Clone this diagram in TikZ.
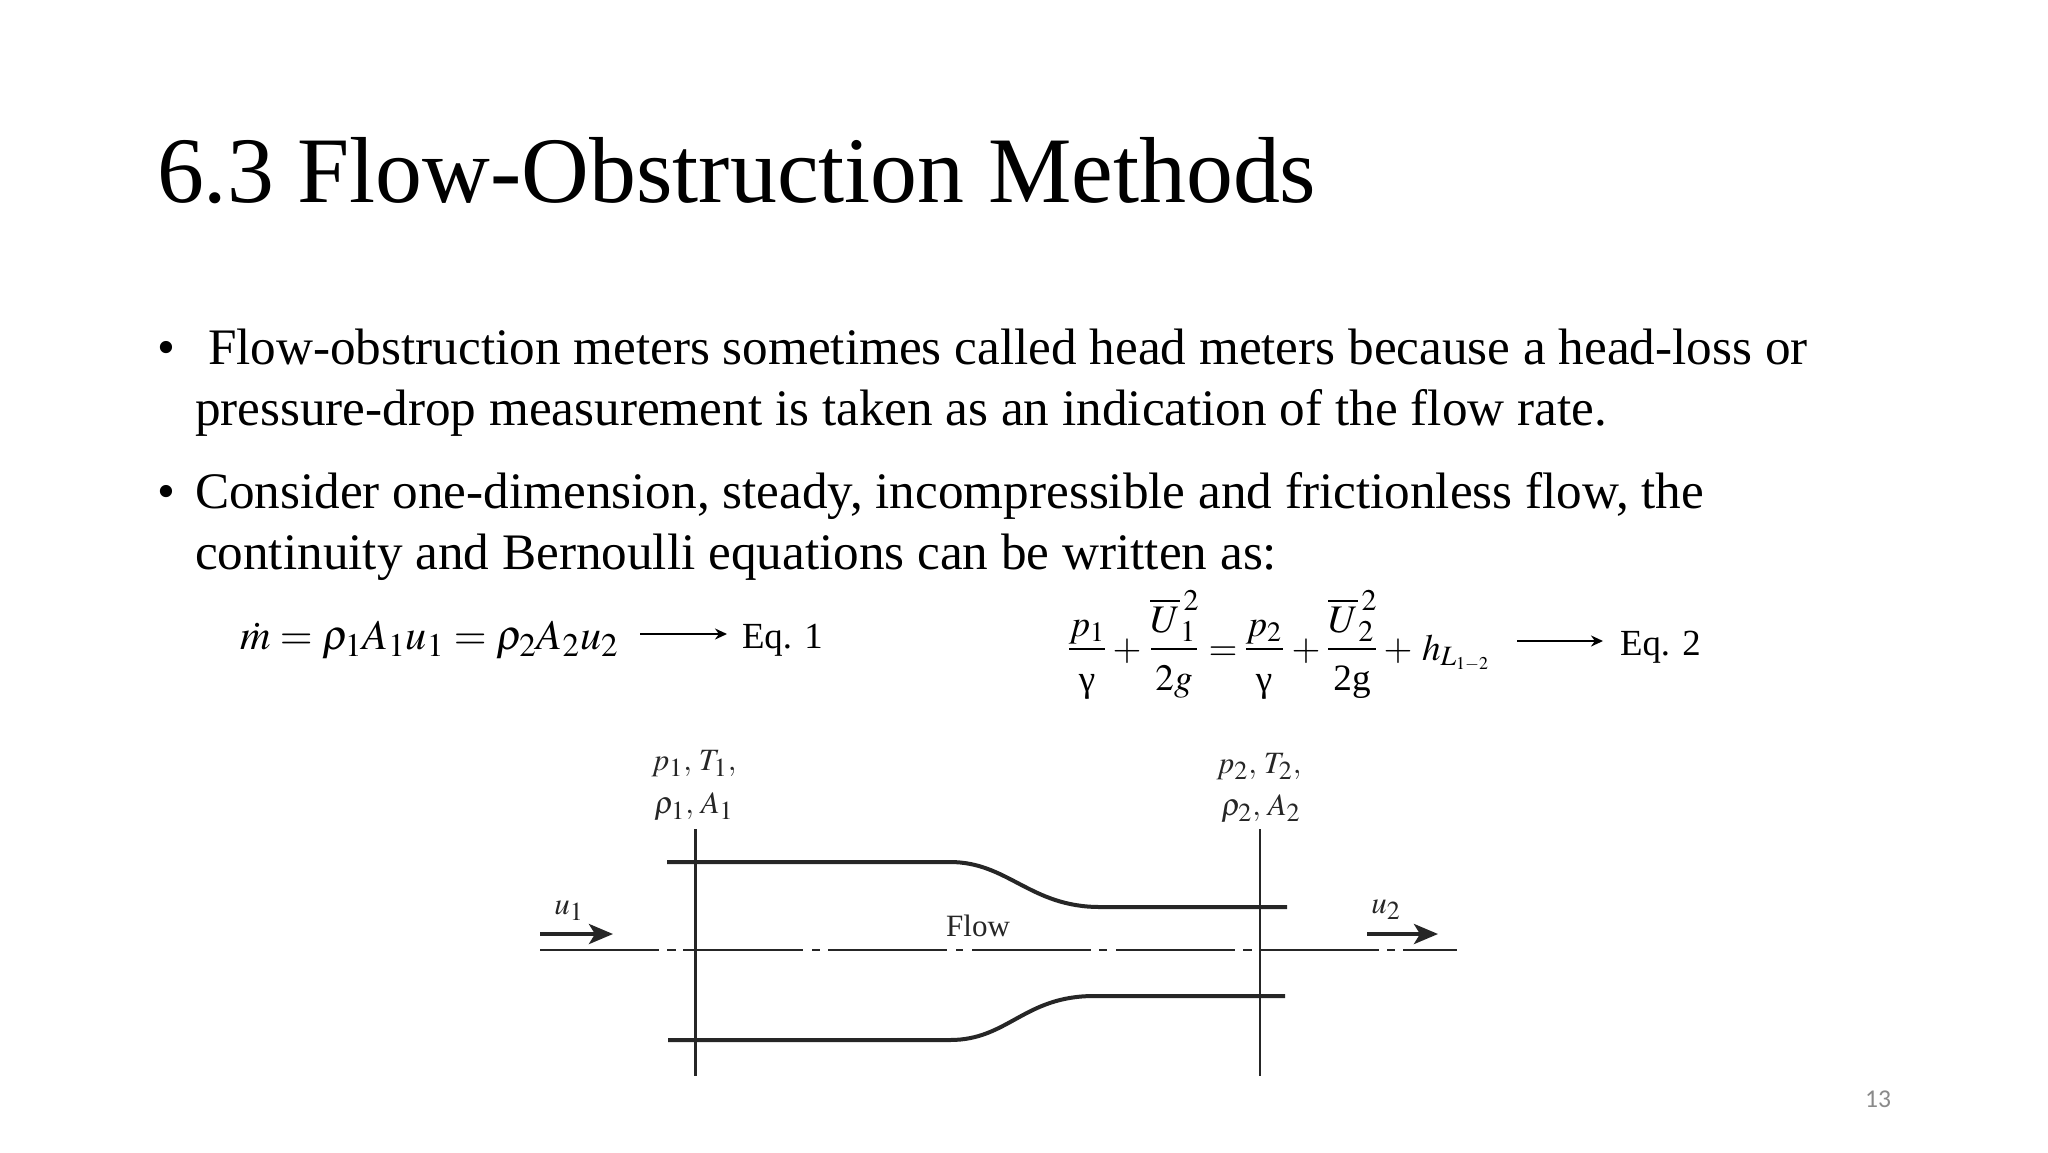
\documentclass[tikz,border=0pt]{standalone}
\usepackage{mathptmx}
\usepackage[no-math]{fontspec}
\setmainfont{Liberation Serif}
\newfontfamily\pagenumfont{Carlito}
\usetikzlibrary{arrows.meta}
\DeclareMathSizes{18.6}{18.6}{14}{9}
\DeclareMathSizes{19.5}{19.5}{15}{11}
\DeclareMathSizes{21.1}{21.1}{16.5}{12}
\DeclareMathSizes{15.5}{15.5}{13}{10}
\definecolor{ink}{HTML}{000000}
\definecolor{fig}{HTML}{262626}
\definecolor{pgnum}{HTML}{8A8A8A}
\newcommand{\fsz}[1]{\fontsize{#1}{#1}\selectfont}
\tikzset{
  x=0.5pt,y=-0.5pt,
  txt/.style={anchor=base west,inner sep=0pt,outer sep=0pt,text=ink},
  titletxt/.style={txt,font=\fsz{46.9}},
  bodytxt/.style={txt,font=\fsz{25.6}},
  eqtxt/.style={txt,font=\fsz{18.4}},
  eqmath/.style={txt,font=\fsz{21.1}},
  hmath/.style={txt,font=\fsz{18.6}},
  mth/.style={anchor=base,inner sep=0pt,outer sep=0pt,text=ink,font=\fsz{18.6}},
  mthn/.style={anchor=base,inner sep=0pt,outer sep=0pt,text=ink,font=\fsz{19.5}},
  figtxt/.style={anchor=base,inner sep=0pt,outer sep=0pt,text=fig,font=\fsz{15.5}},
  fracbar/.style={line width=0.7pt,draw=ink},
  eqarrow/.style={line width=1pt,-{Stealth[length=6pt,width=5.5pt]},draw=ink},
  wall/.style={line width=2pt,draw=fig},
  thin line/.style={line width=1.1pt,draw=fig},
  flowarrow/.style={line width=2pt,-{Stealth[length=12pt,width=10pt,inset=3pt]},draw=fig},
}
\begin{document}
\begin{tikzpicture}
\useasboundingbox (0,0) rectangle (2048,1152);
\fill[white] (0,0) rectangle (2048,1152);
% title
\node[titletxt] (title) at (157,202) {6.3 Flow-Obstruction Methods};
% bullets
\node[bodytxt] (b1) at (157,364) {•};
\node[bodytxt] (l1) at (208,364) {Flow-obstruction meters sometimes called head meters because a head-loss or};
\node[bodytxt] (l2) at (195,425) {pressure-drop measurement is taken as an indication of the flow rate.};
\node[bodytxt] (b2) at (157,508.5) {•};
\node[bodytxt] (l3) at (195,508.5) {Consider one-dimension, steady, incompressible and frictionless flow, the};
\node[bodytxt] (l4) at (195,569.5) {continuity and Bernoulli equations can be written as:};
% equation 1
\node[eqmath] (eqa) at (240,649) {$\dot{m}=\rho_1A_1u_1=\rho_2A_2u_2$};
\coordinate (ea1) at (640,634);
\coordinate (ea2) at (727,634);
\draw[eqarrow] (ea1) -- (ea2);
\node[eqtxt] (eq1) at (742,648) {Eq. 1};
% equation 2
\node[mth] (n1) at (1087,636) {$p_1$};
\draw[fracbar] (1069,649) -- (1105,649);
\node[mth] (d1) at (1087,691) {γ};
\node[mth] (plus1) at (1127,660) {$+$};
\node[mthn] (n2) at (1175,632) {$\overline{U}_1^{\,2}$};
\draw[fracbar] (1151,649) -- (1197,649);
\node[mth] (d2) at (1174,690) {$2g$};
\node[mth] (eqq) at (1223,660) {$=$};
\node[mth] (n3) at (1264,636) {$p_2$};
\draw[fracbar] (1246,649) -- (1283,649);
\node[mth] (d3) at (1264,691) {γ};
\node[mth] (plus2) at (1306,660) {$+$};
\node[mthn] (n4) at (1353,632) {$\overline{U}_2^{\,2}$};
\draw[fracbar] (1328,649) -- (1376,649);
\node[mth] (d4) at (1352,690) {2g};
\node[mth] (plus3) at (1398,660) {$+$};
\node[hmath] (hl) at (1422,660) {$h_{L_{1-2}}$};
\coordinate (eb1) at (1517,641);
\coordinate (eb2) at (1603,641);
\draw[eqarrow] (eb1) -- (eb2);
\node[eqtxt] (eq2) at (1620,655) {Eq. 2};
% figure labels
\node[figtxt] (s1a) at (694,770) {$p_1,\,T_1,$};
\node[figtxt] (s1b) at (694,813) {$\rho_1,\,A_1$};
\node[figtxt] (s2a) at (1259,773) {$p_2,\,T_2,$};
\node[figtxt] (s2b) at (1261,815) {$\rho_2,\,A_2$};
\node[figtxt] (u1) at (569,914) {$u_1$};
\node[figtxt] (u2) at (1386,913) {$u_2$};
\node[figtxt] (flow) at (978,936) {Flow};
% walls
\draw[wall] (667,862) -- (950,862) .. controls (1008,862) and (1030,907) .. (1100,907) -- (1287,907);
\draw[wall] (668,1040) -- (950,1040) .. controls (1008,1040) and (1024,996) .. (1094,996) -- (1285,996);
% section lines
\draw[thin line] (695.5,829) -- (695.5,1076);
\draw[thin line] (1260,829) -- (1260,1076);
% centre line
\foreach \a/\b in {540/659,667/676,683/803,812/820,828/947,956/963,972/1091,1099/1107,1116/1235,1243/1252,1260/1379,1387/1395,1403/1457}
  \draw[thin line] (\a,950.3) -- (\b,950.3);
% flow arrows
\coordinate (fa1) at (540,934);
\coordinate (fa2) at (613,934);
\coordinate (fb1) at (1367,934);
\coordinate (fb2) at (1438,934);
\draw[flowarrow] (fa1) -- (fa2);
\draw[flowarrow] (fb1) -- (fb2);
% page number
\node[anchor=base,inner sep=0pt,text=pgnum,font=\pagenumfont\fsz{12.8}] (pg) at (1878,1107) {13};
\end{tikzpicture}
\end{document}
